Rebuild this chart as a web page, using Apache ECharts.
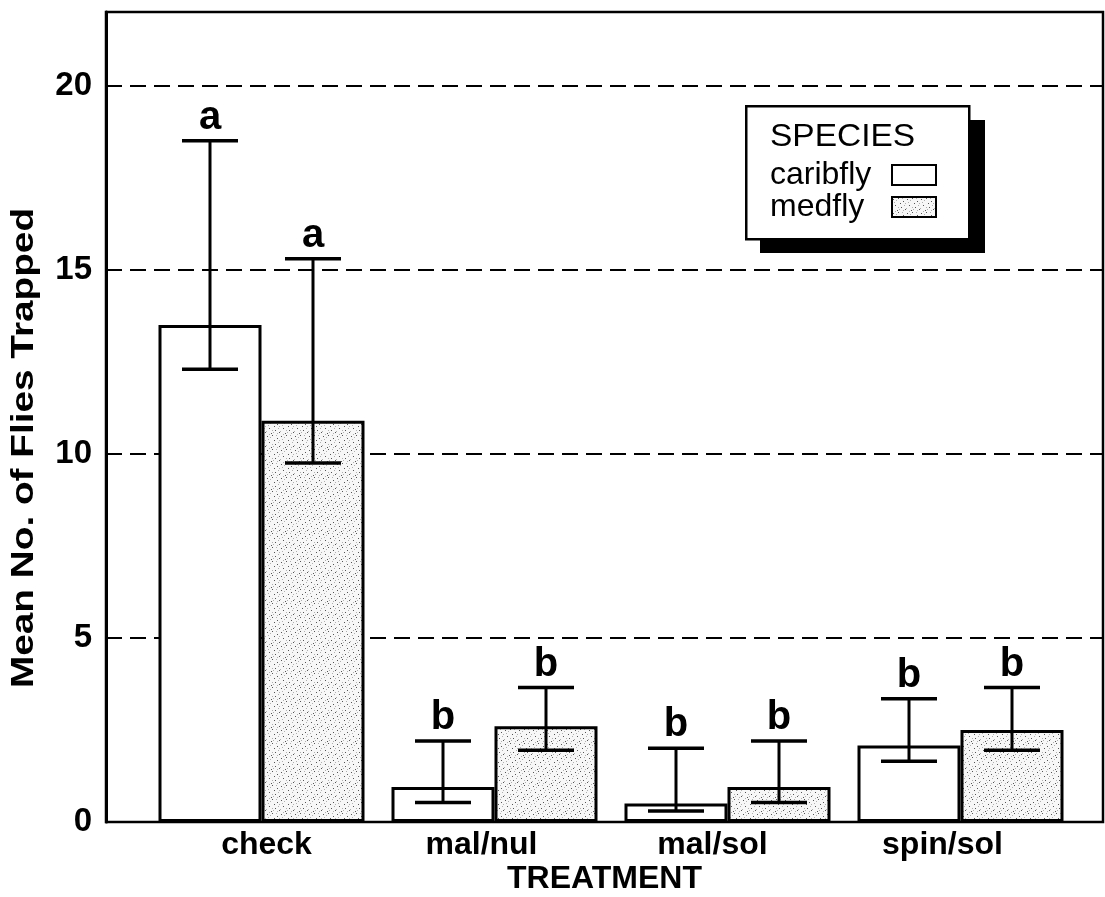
<!DOCTYPE html>
<html><head><meta charset="utf-8">
<script src="https://cdn.jsdelivr.net/npm/echarts/dist/echarts.min.js"></script>
<style>html,body{margin:0;padding:0;background:#fff}#c{width:1105px;height:897px}</style>
</head><body><div id="c"></div>
<script>
const categories = ['check', 'mal/nul', 'mal/sol', 'spin/sol'];
const caribflyMean = [13.5, 0.95, 0.5, 2.08];
const caribflyLower = [12.3, 0.53, 0.3, 1.65];
const caribflyUpper = [18.5, 2.2, 2.0, 3.35];
const caribflyLetters = ['a', 'b', 'b', 'b'];
const medflyMean = [10.9, 2.6, 0.95, 2.5];
const medflyLower = [9.75, 1.95, 0.53, 1.95];
const medflyUpper = [15.3, 3.65, 2.2, 3.65];
const medflyLetters = ['a', 'b', 'b', 'b'];
const yMin = 0, yMax = 22, yStep = 5;
const yTitle = 'Mean No. of Flies Trapped';
const xTitle = 'TREATMENT';
const legendTitle = 'SPECIES';

const FONT = '"Liberation Sans", Arial, sans-serif';
const BAR_W = 103;
const CAP = 56;
// horizontal nudge (px) of each category label relative to its bar pair, as in the original layout
const LABEL_NUDGE = [5, -13, -15, -18];

function stipple() {
  const c = document.createElement('canvas');
  c.width = 14; c.height = 14;
  const g = c.getContext('2d');
  g.fillStyle = '#f7f7f7'; g.fillRect(0, 0, 14, 14);
  const dark = [[1,2],[6,1],[11,4],[3,8],[9,10],[13,12],[5,13],[8,6]];
  const light = [[2,5],[10,1],[12,8],[0,11],[6,10],[4,3],[7,12],[11,13],[13,6],[3,0]];
  g.fillStyle = '#555'; dark.forEach(p => g.fillRect(p[0], p[1], 1, 1));
  g.fillStyle = '#b0b0b0'; light.forEach(p => g.fillRect(p[0], p[1], 1, 1));
  return c;
}
const stippleFill = { image: stipple(), repeat: 'repeat' };

function errSeries(name, lows, ups, letters, sign) {
  return {
    type: 'custom', name: name + '-err', xAxisIndex: 1, yAxisIndex: 1, z: 5,
    silent: true,
    data: categories.map((c, i) => [i, lows[i], ups[i]]),
    renderItem: function (params, api) {
      const i = api.value(0);
      const lo = api.coord([i, api.value(1)]);
      const hi = api.coord([i, api.value(2)]);
      const x = lo[0] + sign * BAR_W / 2;
      return { type: 'group', children: [
        { type: 'line', shape: { x1: x, y1: lo[1], x2: x, y2: hi[1] }, style: { stroke: '#000', lineWidth: 3 } },
        { type: 'line', shape: { x1: x - CAP / 2, y1: hi[1], x2: x + CAP / 2, y2: hi[1] }, style: { stroke: '#000', lineWidth: 3.5 } },
        { type: 'line', shape: { x1: x - CAP / 2, y1: lo[1], x2: x + CAP / 2, y2: lo[1] }, style: { stroke: '#000', lineWidth: 3.5 } },
        { type: 'text', x: x, y: hi[1] - 3, style: { text: letters[params.dataIndex], font: 'bold 40px ' + FONT, fill: '#000', align: 'center', verticalAlign: 'bottom' } }
      ] };
    }
  };
}

const labelRich = {};
LABEL_NUDGE.forEach((d, i) => {
  labelRich['c' + i] = {
    fontSize: 32, fontWeight: 'bold', color: '#000', fontFamily: FONT,
    padding: d >= 0 ? [0, 0, 0, 2 * d] : [0, -2 * d, 0, 0]
  };
});

const chart = echarts.init(document.getElementById('c'), null, { renderer: 'canvas' });
chart.setOption({
  animation: false,
  backgroundColor: '#fff',
  textStyle: { fontFamily: FONT },
  grid: [
    { left: 106, right: 2, top: 12, bottom: 75, show: true, borderColor: '#000', borderWidth: 2.5,
      backgroundColor: 'transparent', containLabel: false, outerBoundsMode: 'none' },
    { left: 145, right: 28, top: 12, bottom: 75, containLabel: false, outerBoundsMode: 'none' }
  ],
  xAxis: [
    { gridIndex: 0, type: 'value', min: 0, max: 1,
      axisLine: { show: false }, axisTick: { show: false }, axisLabel: { show: false }, splitLine: { show: false },
      name: xTitle, nameLocation: 'middle', nameGap: 41,
      nameTextStyle: { fontFamily: '"Liberation Sans Narrow", ' + FONT, fontWeight: 'bold', fontSize: 32, color: '#000', verticalAlign: 'top' } },
    { gridIndex: 1, type: 'category', data: categories,
      axisLine: { show: false }, axisTick: { show: false },
      axisLabel: { interval: 0, hideOverlap: false, fontSize: 32, fontWeight: 'bold', color: '#000', margin: 7, fontFamily: FONT,
        formatter: function (v, i) { return '{c' + i + '|' + v + '}'; }, rich: labelRich } }
  ],
  yAxis: [
    { gridIndex: 0, type: 'value', min: yMin, max: yMax, interval: yStep,
      axisLine: { show: true, lineStyle: { color: '#000', width: 3 } },
      axisTick: { show: true, inside: true, length: 8, lineStyle: { color: '#000', width: 2 } },
      axisLabel: { showMaxLabel: false, fontSize: 33, fontWeight: 'bold', color: '#000', margin: 14, fontFamily: FONT },
      splitLine: { show: true, lineStyle: { color: '#000', width: 2, type: [16, 8] } } },
    { gridIndex: 1, type: 'value', min: yMin, max: yMax, interval: yStep, show: false, splitLine: { show: false } }
  ],
  legend: {
    orient: 'vertical', left: 770, top: 159, align: 'right', z: 60, padding: 0,
    itemWidth: 44, itemHeight: 20, itemGap: 0, icon: 'rect',
    data: ['caribfly', 'medfly'],
    formatter: '{t|{name}}',
    textStyle: { fontSize: 32, color: '#000', lineHeight: 30, fontFamily: FONT,
      rich: { t: { width: 117, align: 'left', fontSize: 32, lineHeight: 30, color: '#000', fontFamily: FONT } } },
    itemStyle: { borderColor: '#000', borderWidth: 2 }
  },
  graphic: [
    { type: 'rect', left: 760, top: 120, z: 50, shape: { width: 225, height: 133 }, style: { fill: '#000' } },
    { type: 'rect', left: 745, top: 105, z: 51, shape: { width: 223, height: 133 }, style: { fill: '#fff', stroke: '#000', lineWidth: 2.5 } },
    { type: 'text', x: 770, y: 122, scaleX: 1.08, z: 52, style: { text: legendTitle, font: '31px ' + FONT, fill: '#000' } },
    { type: 'text', x: 24, y: 448, rotation: Math.PI / 2, scaleX: 1.25, z: 52,
      style: { text: yTitle, font: 'bold 31px ' + FONT, fill: '#000', align: 'center', verticalAlign: 'middle' } }
  ],
  series: [
    { name: 'caribfly', type: 'bar', xAxisIndex: 1, yAxisIndex: 1, data: caribflyMean,
      barWidth: BAR_W, barGap: '0%', z: 3,
      itemStyle: { color: '#fff', borderColor: '#000', borderWidth: 3 } },
    { name: 'medfly', type: 'bar', xAxisIndex: 1, yAxisIndex: 1, data: medflyMean,
      barWidth: BAR_W, barGap: '0%', z: 3,
      itemStyle: { color: stippleFill, borderColor: '#000', borderWidth: 3 } },
    errSeries('caribfly', caribflyLower, caribflyUpper, caribflyLetters, -1),
    errSeries('medfly', medflyLower, medflyUpper, medflyLetters, 1)
  ]
});
</script>
</body></html>
